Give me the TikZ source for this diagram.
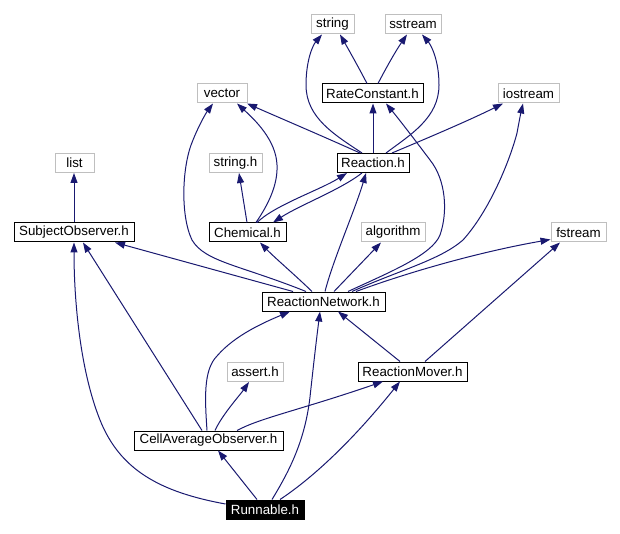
\documentclass[tikz,border=0pt]{standalone}
\usepackage{fontspec}
\setmainfont{Liberation Sans}
\usetikzlibrary{arrows.meta,calc}
\definecolor{edgec}{HTML}{191970}
\definecolor{extc}{HTML}{BFBFBF}
\begin{document}
\begin{tikzpicture}[x=0.75pt,y=-0.75pt,
  box/.style={draw, line width=0.75pt, minimum height=14.25pt, inner sep=0pt, font=\fontsize{10pt}{12pt}\selectfont},
  ext/.style={box, draw=extc},
  int/.style={box, draw=black},
  cur/.style={box, fill=black, text=white, draw=black},
  w/.style={minimum width=#1*0.75pt},
  dep/.style={draw=edgec, line width=0.75pt, -{Triangle[length=7.5pt,width=5.25pt]}}]
\useasboundingbox (0,0) rectangle (620,534);
% nodes
\node[ext,w=43]  (str)  at (332.5,24.5) {string};
\node[ext,w=56]  (sst)  at (413,24.5)   {sstream};
\node[ext,w=50]  (vec)  at (222,93.5)   {vector};
\node[int,w=101] (RC)   at (372.5,93.5) {RateConstant.h};
\node[ext,w=61]  (ios)  at (528.5,93.5) {iostream};
\node[ext,w=39]  (lst)  at (74.5,163)   {list};
\node[ext,w=53]  (strh) at (235.5,163)  {string.h};
\node[int,w=72]  (R)    at (373,163)    {Reaction.h};
\node[int,w=120] (SO)   at (74,232.5)   {SubjectObserver.h};
\node[int,w=77]  (Ch)   at (247.5,232.5){Chemical.h};
\node[ext,w=64]  (alg)  at (393,232.5)  {algorithm};
\node[ext,w=55]  (fs)   at (578.5,232.5){fstream};
\node[int,w=123] (RN)   at (323.5,301.5){ReactionNetwork.h};
\node[ext,w=56]  (as)   at (255,372)    {assert.h};
\node[int,w=109] (RM)   at (412.5,371.5){ReactionMover.h};
\node[int,w=149] (CA)   at (208.5,440.5){CellAverageObserver.h};
\node[cur,w=78]  (Run)  at (265,509.5)  {Runnable.h};
% RateConstant
\draw[dep] ($(RC.north)+(-5.5,0)$) .. controls (360,70) and (350,52) .. ($(str.south)+(7.5,0)$);
\draw[dep] ($(RC.north)+(5.5,0)$) .. controls (385,70) and (395,52) .. ($(sst.south)+(-6,0)$);
% Reaction
\draw[dep] ($(R.north)+(-11,0)$) .. controls (335,135) and (306,118) .. (306,85) .. controls (306,60) and (313,45) .. ($(str.south)+(-10.5,0)$);
\draw[dep] ($(R.north)+(13,0)$) .. controls (410,135) and (439,118) .. (439,85) .. controls (439,60) and (431,45) .. ($(sst.south)+(9,0)$);
\draw[dep] (R.north) -- (RC.south -| R.north);
\draw[dep] ($(R.north)+(-13,0)$) .. controls (320,135) and (280,118) .. ($(vec.south)+(25,0)$);
\draw[dep] ($(R.north)+(19,0)$) .. controls (430,137) and (470,120) .. ($(ios.south)+(-25.5,0)$);
\draw[dep] ($(R.south)+(-11,0)$) .. controls (340,190) and (300,205) .. ($(Ch.north)+(25.5,0)$);
% Chemical
\draw[dep] ($(Ch.north)+(8.5,0)$) .. controls (268,205) and (278,185) .. (277,165) .. controls (276,140) and (255,120) .. ($(vec.south)+(15,0)$);
\draw[dep] ($(Ch.north)+(-0.5,0)$) -- ($(strh.south)+(3.5,0)$);
\draw[dep] ($(Ch.north)+(9.5,0)$) .. controls (275,205) and (320,190) .. ($(R.south)+(-26,0)$);
% SubjectObserver
\draw[dep] (SO.north) -- (lst.south -| SO.north);
% ReactionNetwork
\draw[dep] ($(RN.north)+(-17.5,0)$) .. controls (240,265) and (205,262) .. (192,240) .. controls (180,215) and (182,165) .. (193,140) .. controls (199,125) and (206,113) .. ($(vec.south)+(-9,0)$);
\draw[dep] ($(RN.north)+(-30.5,0)$) -- ($(SO.south)+(41,0)$);
\draw[dep] ($(RN.north)+(-11.5,0)$) .. controls (295,275) and (275,258) .. ($(Ch.south)+(12.5,0)$);
\draw[dep] ($(RN.north)+(1.5,0)$) .. controls (333,260) and (355,210) .. ($(R.south)+(-7,0)$);
\draw[dep] ($(RN.north)+(10.5,0)$) -- ($(alg.south)+(-12,0)$);
\draw[dep] ($(RN.north)+(24.5,0)$) .. controls (390,272) and (432,255) .. (440,235) .. controls (448,212) and (446,180) .. (430,160) .. controls (415,140) and (398,118) .. ($(RC.south)+(13.5,0)$);
\draw[dep] ($(RN.north)+(28.5,0)$) .. controls (400,270) and (440,260) .. (463,240) .. controls (490,210) and (510,160) .. (517,133) .. controls (519,122) and (521,112) .. ($(ios.south)+(-5.5,0)$);
\draw[dep] ($(RN.north)+(32.5,0)$) .. controls (420,268) and (490,250) .. ($(fs.west)+(0,7)$);
% ReactionMover
\draw[dep] ($(RM.north)+(-12.5,0)$) -- ($(RN.south)+(14.5,0)$);
\draw[dep] ($(RM.north)+(12.5,0)$) -- ($(fs.south)+(-18.5,0)$);
% CellAverageObserver
\draw[dep] ($(CA.north)+(-6.5,0)$) -- ($(SO.south)+(9,0)$);
\draw[dep] ($(CA.north)+(-1.5,0)$) .. controls (205,400) and (203,370) .. (217,356) .. controls (235,335) and (265,322) .. ($(RN.south)+(-33.5,0)$);
\draw[dep] ($(CA.north)+(6.5,0)$) .. controls (222,415) and (240,395) .. ($(as.south)+(-6,0)$);
\draw[dep] ($(CA.north)+(28.5,0)$) .. controls (260,418) and (300,410) .. ($(RM.south)+(-29.5,0)$);
% Runnable
\draw[dep] ($(Run.west)+(0,-5.5)$) .. controls (160,492) and (120,470) .. (100,420) .. controls (80,370) and (74,300) .. (SO.south);
\draw[dep] ($(Run.north)+(-8,0)$) -- ($(CA.south)+(9.5,0)$);
\draw[dep] ($(Run.north)+(7,0)$) .. controls (290,470) and (305,440) .. (310,397) .. controls (314,360) and (317,335) .. ($(RN.south)+(-3.5,0)$);
\draw[dep] ($(Run.north)+(15,0)$) .. controls (305,483) and (345,450) .. ($(RM.south)+(-12.5,0)$);
\end{tikzpicture}
\end{document}
